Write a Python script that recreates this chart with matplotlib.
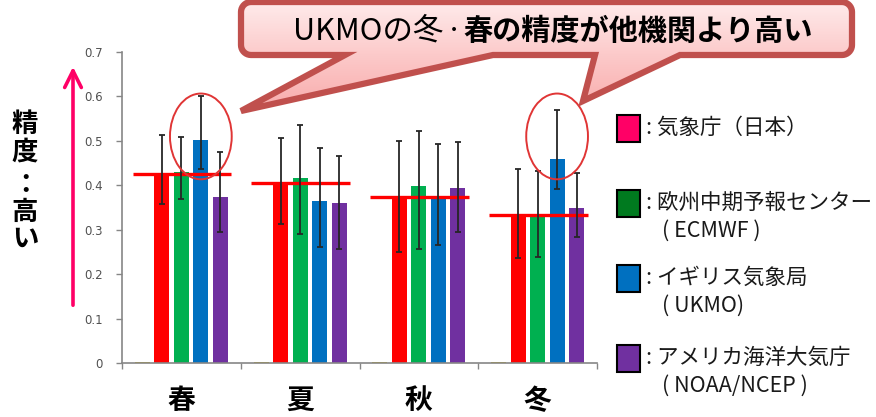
import numpy as np
import matplotlib
matplotlib.use("Agg")
import matplotlib.pyplot as plt
from matplotlib.patches import Ellipse, Rectangle, PathPatch
from matplotlib.path import Path
from matplotlib.colors import LinearSegmentedColormap

plt.rcParams["font.family"] = ["Noto Sans CJK JP", "DejaVu Sans"]

# --- data ---
seasons = ["春", "夏", "秋", "冬"]

# near-zero placeholder series in the first slot of each group
dummy = [0.003, 0.003, 0.003, 0.003]

jma = [0.425, 0.405, 0.374, 0.333]
jma_lo = [0.358, 0.313, 0.250, 0.236]
jma_hi = [0.513, 0.506, 0.500, 0.437]

ecmwf = [0.430, 0.416, 0.398, 0.331]
ecmwf_lo = [0.369, 0.290, 0.257, 0.239]
ecmwf_hi = [0.509, 0.536, 0.522, 0.432]

ukmo = [0.502, 0.364, 0.371, 0.459]
ukmo_lo = [0.437, 0.261, 0.265, 0.391]
ukmo_hi = [0.601, 0.484, 0.493, 0.569]

noaa = [0.373, 0.360, 0.394, 0.349]
noaa_lo = [0.295, 0.257, 0.295, 0.283]
noaa_hi = [0.475, 0.466, 0.497, 0.427]

highlight = [0, 3]  # seasons where UKMO is circled
ytick_vals = [0, 0.1, 0.2, 0.3, 0.4, 0.5, 0.6, 0.7]
ytick_labels = ["0", "0.1", "0.2", "0.3", "0.4", "0.5", "0.6", "0.7"]

legend_names = ["気象庁（日本）", "欧州中期予報センター", "イギリス気象局",
                "アメリカ海洋大気庁"]
legend_subs = ["", "( ECMWF )", "( UKMO)", "( NOAA/NCEP )"]
legend_colors = ["#ff0066", "#007a1f", "#0070c0", "#7030a0"]
callout_plain = "UKMOの冬"
callout_bold = "春の精度が他機関より高い"

bar_colors = ["#d4b800", "#ff0000", "#00b050", "#0070c0", "#7030a0"]

W, H = 876, 417
fig = plt.figure(figsize=(W / 100, H / 100), dpi=100)
ax = fig.add_axes([122 / W, 1 - 363 / H, 475 / W, 311 / H])

x = np.arange(len(seasons))
slot = 0.164
bw = 0.127

series = [
    (dummy, None, None),
    (jma, jma_lo, jma_hi),
    (ecmwf, ecmwf_lo, ecmwf_hi),
    (ukmo, ukmo_lo, ukmo_hi),
    (noaa, noaa_lo, noaa_hi),
]
for k, (vals, lo, hi) in enumerate(series):
    xs = x + (k - 2) * slot
    ax.bar(xs, vals, width=bw, color=bar_colors[k], zorder=2)
    if lo is not None:
        v = np.array(vals)
        yerr = [v - np.array(lo), np.array(hi) - v]
        ax.errorbar(xs, v, yerr=yerr, fmt="none", ecolor="#262626",
                    elinewidth=1.3, capsize=2.5, capthick=1.3, zorder=4)

# JMA reference lines across each group
ax.hlines(jma, x - 0.41, x + 0.42, color="#ff0000", lw=2.4, zorder=3)

# circles around UKMO bars
for i in highlight:
    ax.add_patch(Ellipse((x[i] + slot, 0.51), 0.52, 0.193, fill=False,
                         edgecolor="#e03535", lw=1.4, zorder=5, clip_on=False))

ax.set_xlim(-0.5, 3.5)
ax.set_ylim(0, 0.7)
ax.set_yticks(ytick_vals)
ax.set_yticklabels(ytick_labels, fontsize=8.5, color="#505050",
                   family="DejaVu Sans")
ax.set_xticks(np.arange(-0.5, 4, 1.0))
ax.set_xticklabels([])
ax.set_xticks(x, minor=True)
ax.set_xticklabels(seasons, minor=True, fontsize=20, fontweight="bold")
ax.tick_params(axis="x", which="minor", length=0, pad=17)
ax.tick_params(axis="both", which="major", length=4, color="#868686",
               width=1)
ax.tick_params(axis="y", pad=10)
for side in ["top", "right"]:
    ax.spines[side].set_visible(False)
for side in ["left", "bottom"]:
    ax.spines[side].set_color("#868686")
    ax.spines[side].set_linewidth(1.2)

# --- overlay in pixel coordinates for annotations ---
ov = fig.add_axes([0, 0, 1, 1])
ov.set_zorder(10)
ov.axis("off")

# callout bubble
L, R, T, B, r = 241, 852, 2, 55, 10


def arc(cx, cy, a0, a1, n=10):
    t = np.radians(np.linspace(a0, a1, n))
    return list(zip(cx + r * np.cos(t), cy + r * np.sin(t)))


verts = []
verts += arc(L + r, T + r, 180, 270)
verts += arc(R - r, T + r, 270, 360)
verts += arc(R - r, B - r, 0, 90)
verts += [(680, B), (583, 101), (595, B), (493, B), (241, 111), (345, B)]
verts += arc(L + r, B - r, 90, 180)
verts.append(verts[0])
codes = [Path.MOVETO] + [Path.LINETO] * (len(verts) - 2) + [Path.CLOSEPOLY]
bubble = Path(verts, codes)

grad = np.linspace(0, 1, 256).reshape(-1, 1)
cmap = LinearSegmentedColormap.from_list(
    "bub", ["#fff0f0", "#fccaca", "#f8a9a9"])
im = ov.imshow(grad, extent=[L - 5, R + 5, 115, -5], aspect="auto",
               cmap=cmap, zorder=1)
clip = PathPatch(bubble, transform=ov.transData, facecolor="none")
im.set_clip_path(clip)
ov.add_patch(PathPatch(bubble, facecolor="none", edgecolor="#c0504d",
                       lw=4.5, joinstyle="miter", zorder=2))

ov.text(443, 31, callout_plain, fontsize=22, ha="right", va="center",
        color="black", zorder=3)
ov.text(454, 31, "·", fontsize=21, ha="center", va="center",
        color="black", zorder=3)
ov.text(463, 31, callout_bold, fontsize=21, fontweight="bold", ha="left",
        va="center", color="black", zorder=3)

# vertical axis note with arrow
ov.annotate("", xy=(73, 64), xytext=(73, 308),
            arrowprops=dict(arrowstyle="->,head_length=1.2,head_width=0.6",
                            color="#ff0066", lw=2.6))
for ch, yy in zip(["精", "度", "：", "高", "い"], [124, 152, 186, 212, 239]):
    ov.text(25, yy, ch, fontsize=19, fontweight="bold", ha="center",
            va="center")

# legend
sq_tops = [115, 190, 265, 345]
for name, sub, col, top in zip(legend_names, legend_subs, legend_colors,
                               sq_tops):
    ov.add_patch(Rectangle((617, top), 23, 27, facecolor=col,
                           edgecolor="black", lw=1.5))
    ov.text(646, top + 13, ": " + name, fontsize=15.5, ha="left",
            va="center", color="#1a1a1a")
    if sub:
        ov.text(662, top + 41, sub, fontsize=15.5, ha="left", va="center",
                color="#1a1a1a")

ov.set_xlim(0, W)
ov.set_ylim(H, 0)

fig.savefig("out.png", dpi=100)
